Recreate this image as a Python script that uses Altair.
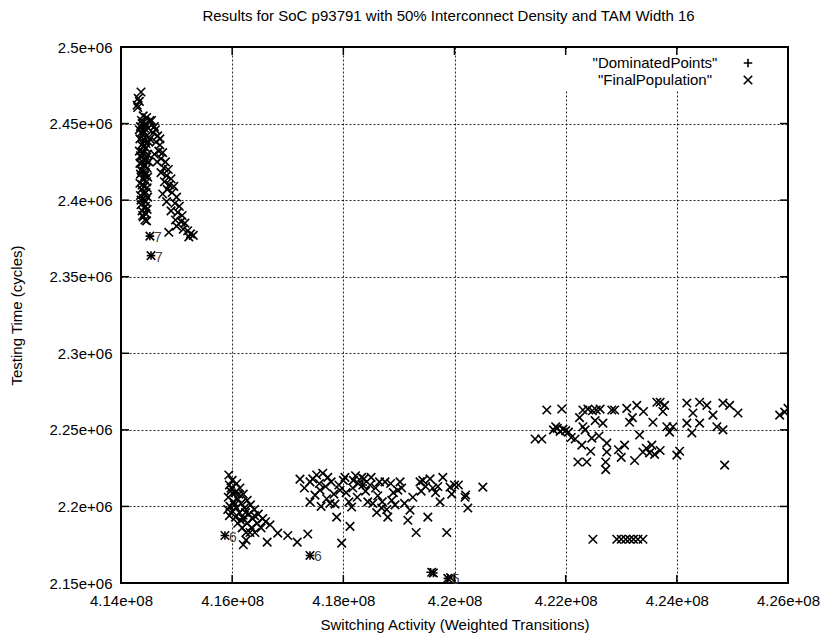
import altair as alt
import pandas as pd

TITLE = "Results for SoC p93791 with 50% Interconnect Density and TAM Width 16"
X_TITLE = "Switching Activity (Weighted Transitions)"
Y_TITLE = "Testing Time (cycles)"
FONT = "Liberation Sans"

# tick values: x in millions of weighted transitions, y in thousands of cycles
x_ticks_m = [414, 416, 418, 420, 422, 424, 426]
y_ticks_k = [2150, 2200, 2250, 2300, 2350, 2400, 2450, 2500]

# "FinalPopulation" points (x in millions, y in thousands)
final_c1 = [
    (414.36, 2470.6), (414.31, 2466.5), (414.29, 2462.0), (414.33, 2464.5), (414.30, 2460.5),
    (414.40, 2455), (414.46, 2454), (414.52, 2452), (414.37, 2452), (414.44, 2450),
    (414.35, 2448), (414.49, 2447), (414.41, 2445), (414.38, 2443), (414.46, 2442),
    (414.34, 2440), (414.43, 2439), (414.50, 2438), (414.37, 2436), (414.45, 2434),
    (414.33, 2432), (414.40, 2431), (414.48, 2430), (414.36, 2428), (414.44, 2426),
    (414.34, 2424), (414.41, 2423), (414.47, 2421), (414.37, 2419), (414.35, 2417),
    (414.43, 2416), (414.39, 2414), (414.46, 2412), (414.34, 2411), (414.42, 2409),
    (414.37, 2407), (414.45, 2405), (414.35, 2403), (414.40, 2401), (414.44, 2399),
    (414.36, 2397), (414.42, 2395), (414.38, 2393), (414.45, 2391), (414.40, 2389),
    (414.43, 2387), (414.47, 2394), (414.48, 2402), (414.50, 2425), (414.52, 2440),
    (414.33, 2446), (414.39, 2437), (414.36, 2420), (414.41, 2404), (414.46, 2386.5),
    (414.55, 2452), (414.60, 2448), (414.58, 2444), (414.66, 2442), (414.63, 2438),
    (414.70, 2436), (414.68, 2432), (414.75, 2431), (414.72, 2427), (414.80, 2425),
    (414.77, 2421), (414.85, 2420), (414.82, 2416), (414.90, 2414), (414.87, 2410),
    (414.95, 2409), (414.75, 2404), (414.92, 2405), (415.00, 2402), (414.97, 2398),
    (414.82, 2399), (415.05, 2396), (414.90, 2393), (415.02, 2392), (415.10, 2390),
    (414.98, 2387), (415.08, 2386), (415.15, 2385), (415.00, 2383), (415.12, 2381),
    (415.20, 2380), (414.86, 2379), (415.25, 2378), (415.30, 2377), (415.22, 2376),
    (414.62, 2446), (414.70, 2440), (414.65, 2425), (414.72, 2418), (414.60, 2430),
    (414.78, 2412), (414.83, 2407), (414.52, 2376.5), (414.54, 2363.8),
    (414.38, 2450), (414.42, 2447), (414.36, 2444), (414.45, 2437), (414.40, 2435),
    (414.35, 2429), (414.46, 2428), (414.39, 2425), (414.44, 2418), (414.38, 2410),
    (414.47, 2408), (414.36, 2400), (414.44, 2396), (414.39, 2390), (414.48, 2415),
]
final_c2 = [
    (415.94, 2220.5), (416.00, 2217), (415.95, 2214), (416.08, 2215), (416.14, 2212),
    (415.97, 2210), (416.05, 2209), (416.20, 2208), (415.93, 2206), (416.10, 2205),
    (416.27, 2204), (416.02, 2203), (416.16, 2202), (416.33, 2201), (415.96, 2200),
    (416.08, 2199), (416.22, 2199), (416.40, 2198), (416.00, 2197), (416.13, 2196),
    (416.30, 2195), (416.47, 2195), (415.95, 2194), (416.06, 2193), (416.20, 2192),
    (416.37, 2192), (416.55, 2192), (416.10, 2189), (416.27, 2189), (416.45, 2189),
    (416.60, 2190), (416.18, 2186), (416.35, 2186), (416.52, 2186), (416.68, 2188),
    (416.25, 2183), (416.41, 2183), (416.32, 2183), (416.25, 2178), (416.20, 2175),
    (416.63, 2176.7), (416.82, 2182.6), (417.00, 2181), (417.17, 2176.7), (417.36, 2182),
    (415.98, 2212), (416.12, 2208), (416.04, 2201), (416.24, 2196), (416.15, 2191),
    (416.40, 2194), (415.92, 2198), (415.87, 2181), (417.40, 2168),
]
final_c3 = [
    (417.22, 2217.8), (417.40, 2216), (417.52, 2220.5), (417.63, 2221.7), (417.72, 2219),
    (417.40, 2203), (417.49, 2207.4), (417.58, 2210.6), (417.76, 2202), (417.85, 2201.5),
    (417.88, 2193), (417.94, 2210.6), (418.00, 2217), (417.97, 2176), (418.12, 2187),
    (418.15, 2199.6), (418.17, 2212), (418.33, 2219), (418.35, 2214), (418.48, 2214),
    (418.53, 2202), (418.69, 2199), (418.75, 2216), (418.80, 2193), (418.87, 2204),
    (418.93, 2201), (419.02, 2216), (418.98, 2210.6), (419.20, 2197.6), (419.16, 2191),
    (419.31, 2183), (419.38, 2216), (419.43, 2217), (419.52, 2193), (419.61, 2212),
    (419.74, 2203), (419.79, 2219), (419.86, 2183), (419.92, 2212.6), (420.00, 2214),
    (420.19, 2206), (420.24, 2199), (420.51, 2212.6), (419.59, 2157), (419.88, 2153),
    (417.30, 2212), (417.45, 2218), (417.57, 2215), (417.68, 2213), (417.78, 2216),
    (417.83, 2208), (417.70, 2205), (417.92, 2214), (418.05, 2209), (418.10, 2203),
    (418.22, 2220), (418.27, 2215), (418.25, 2206), (418.40, 2210), (418.44, 2203),
    (418.58, 2212), (418.62, 2207), (418.65, 2216), (418.70, 2203), (418.85, 2215),
    (418.90, 2209), (419.05, 2212), (419.10, 2202), (418.78, 2198), (418.60, 2196),
    (419.25, 2206), (419.40, 2210), (419.48, 2213), (419.70, 2213), (418.37, 2218),
    (418.18, 2217), (417.60, 2200), (418.03, 2219), (419.56, 2218), (419.66, 2209),
    (419.95, 2208), (420.07, 2214), (419.62, 2156.5), (419.93, 2153.5), (418.50, 2219),
    (420.20, 2207.5),
]
final_c4 = [
    (421.45, 2244), (421.57, 2244), (421.66, 2263), (421.93, 2263.6), (421.78, 2250),
    (421.85, 2251), (421.90, 2249), (421.95, 2250.5), (422.00, 2249.5), (422.05, 2248.5),
    (421.82, 2252), (422.17, 2244), (422.29, 2240), (422.31, 2252), (422.22, 2229),
    (422.38, 2229), (422.31, 2263), (422.40, 2263.5), (422.48, 2262.5), (422.55, 2263),
    (422.62, 2263.5), (422.47, 2244.6), (422.53, 2256), (422.67, 2254.4), (422.74, 2241.3),
    (422.74, 2235.5), (422.72, 2229), (422.72, 2224), (422.83, 2263), (422.88, 2263),
    (423.06, 2240), (423.10, 2264), (423.15, 2255), (423.24, 2230), (423.28, 2266),
    (423.33, 2246.6), (423.39, 2235.5), (423.51, 2235), (423.57, 2255), (423.64, 2268),
    (423.70, 2268), (423.78, 2266), (423.82, 2252), (423.87, 2248.5), (423.93, 2252),
    (424.00, 2233.5), (424.18, 2267.5), (424.18, 2254.4), (424.29, 2261), (424.27, 2248),
    (424.41, 2268), (424.41, 2254.4), (424.54, 2266), (424.65, 2259.6), (424.72, 2252),
    (424.83, 2250), (424.86, 2227), (424.83, 2267.5), (424.95, 2266), (425.10, 2261),
    (425.85, 2259.6), (425.94, 2261.6), (426.00, 2264),
    (422.35, 2250), (422.45, 2236), (422.60, 2246), (422.95, 2237), (423.00, 2232),
    (423.45, 2238), (423.55, 2240), (423.20, 2258), (423.40, 2262), (424.05, 2236),
    (423.60, 2234), (422.25, 2258), (422.10, 2245), (423.75, 2262), (423.70, 2236.5),
    (422.49, 2178.6), (422.92, 2178.6), (423.00, 2178.6), (423.08, 2178.6), (423.15, 2178.6),
    (423.22, 2178.6), (423.30, 2178.6), (423.39, 2178.6),
]

# "DominatedPoints" (x in millions, y in thousands)
dominated = [
    (414.52, 2376.5), (414.54, 2363.8), (415.87, 2181), (417.40, 2168),
    (419.57, 2157), (419.62, 2156.5), (419.88, 2153),
    (414.40, 2431), (414.43, 2416), (416.05, 2209), (416.20, 2192), (418.35, 2214),
]

# small numeric point labels
label_x = [414.52, 414.54, 415.87, 417.40, 419.88]
label_y = [2376.5, 2363.8, 2181, 2168, 2153]
label_t = ["7", "7", "6", "6", "5"]

rows = []
for grp in (final_c1, final_c2, final_c3, final_c4):
    for xv, yv in grp:
        rows.append({"x": xv * 1e6, "y": yv * 1e3, "series": "FinalPopulation"})
for xv, yv in dominated:
    rows.append({"x": xv * 1e6, "y": yv * 1e3, "series": "DominatedPoints"})
pts = pd.DataFrame(rows)

labels = pd.DataFrame({"x": [v * 1e6 for v in label_x],
                       "y": [v * 1e3 for v in label_y],
                       "t": label_t})
xt = pd.DataFrame({"v": [v * 1e6 for v in x_ticks_m]})
yt = pd.DataFrame({"v": [v * 1e3 for v in y_ticks_k]})

W, H = 667, 536
TICK = 8

X_PATH = "M-1,-1L1,1M-1,1L1,-1"
PLUS_PATH = "M-1,0L1,0M0,-1L0,1"

xs = alt.Scale(domain=[414e6, 426e6], nice=False, zero=False)
ys = alt.Scale(domain=[2150e3, 2500e3], nice=False, zero=False)

common_axis = dict(
    grid=True, gridDash=[2, 2], gridColor="#000", gridOpacity=0.85, gridWidth=1,
    ticks=False, domain=False, labelFlush=False, labelOverlap=False, labelBound=False,
    labelFont=FONT, titleFont=FONT, labelFontSize=15, titleFontSize=15,
    titleFontWeight="normal", labelColor="black", titleColor="black",
)
xaxis = alt.Axis(
    title=X_TITLE, values=[v * 1e6 for v in x_ticks_m],
    labelExpr="replace(format(datum.value, '.2~e'), 'e+8', 'e+08')",
    labelPadding=10, titlePadding=9, **common_axis,
)
yaxis = alt.Axis(
    title=Y_TITLE, values=[v * 1e3 for v in y_ticks_k],
    labelExpr="replace(format(datum.value, '.2~e'), 'e+6', 'e+06')",
    labelPadding=9, titlePadding=25, **common_axis,
)

one = pd.DataFrame({"a": [0]})

key_blank = alt.Chart(one).mark_rect(color="white").encode(
    x=alt.value(439), x2=alt.value(665), y=alt.value(2), y2=alt.value(43)
)

points = alt.Chart(pts).mark_point(
    filled=False, color="black", strokeWidth=1.6, size=72, opacity=1, clip=True
).encode(
    x=alt.X("x:Q", scale=xs, axis=xaxis),
    y=alt.Y("y:Q", scale=ys, axis=yaxis),
    shape=alt.Shape("series:N",
                    scale=alt.Scale(domain=["DominatedPoints", "FinalPopulation"],
                                    range=[PLUS_PATH, X_PATH]),
                    legend=None),
)

num_labels = alt.Chart(labels).mark_text(
    font=FONT, fontSize=14, color="#444", align="left", dx=4, dy=2
).encode(
    x=alt.X("x:Q", scale=xs, axis=xaxis),
    y=alt.Y("y:Q", scale=ys, axis=yaxis),
    text="t:N",
)

tick_style = dict(color="black", strokeWidth=1.5)
x_ticks_bottom = alt.Chart(xt).mark_rule(**tick_style).encode(
    x=alt.X("v:Q", scale=xs, axis=xaxis), y=alt.value(H), y2=alt.value(H - TICK))
x_ticks_top = alt.Chart(xt).mark_rule(**tick_style).encode(
    x=alt.X("v:Q", scale=xs, axis=xaxis), y=alt.value(0), y2=alt.value(TICK))
y_ticks_left = alt.Chart(yt).mark_rule(**tick_style).encode(
    y=alt.Y("v:Q", scale=ys, axis=yaxis), x=alt.value(0), x2=alt.value(TICK))
y_ticks_right = alt.Chart(yt).mark_rule(**tick_style).encode(
    y=alt.Y("v:Q", scale=ys, axis=yaxis), x=alt.value(W), x2=alt.value(W - TICK))

key_text1 = alt.Chart(one).mark_text(
    text='"DominatedPoints"', font=FONT, fontSize=15, align="center", baseline="middle"
).encode(x=alt.value(534), y=alt.value(16))
key_text2 = alt.Chart(one).mark_text(
    text='"FinalPopulation"', font=FONT, fontSize=15, align="center", baseline="middle"
).encode(x=alt.value(534), y=alt.value(33))
key_sym1 = alt.Chart(one).mark_point(
    shape=PLUS_PATH, filled=False, color="black", strokeWidth=1.6, size=72, opacity=1
).encode(x=alt.value(627), y=alt.value(16))
key_sym2 = alt.Chart(one).mark_point(
    shape=X_PATH, filled=False, color="black", strokeWidth=1.6, size=72, opacity=1
).encode(x=alt.value(627), y=alt.value(33))

chart = alt.layer(
    key_blank, points, num_labels,
    x_ticks_bottom, x_ticks_top, y_ticks_left, y_ticks_right,
    key_text1, key_text2, key_sym1, key_sym2,
).properties(
    width=W, height=H,
    title=alt.TitleParams(TITLE, font=FONT, fontSize=15, fontWeight="normal",
                          anchor="middle", offset=16, dx=-6, color="black"),
    autosize=alt.AutoSizeParams(type="none"),
    padding={"left": 121, "top": 47, "right": 38, "bottom": 58},
    background="white",
).configure_view(
    stroke="black", strokeWidth=2
)

chart.save("out.html", embed_options={"renderer": "svg", "actions": False})
